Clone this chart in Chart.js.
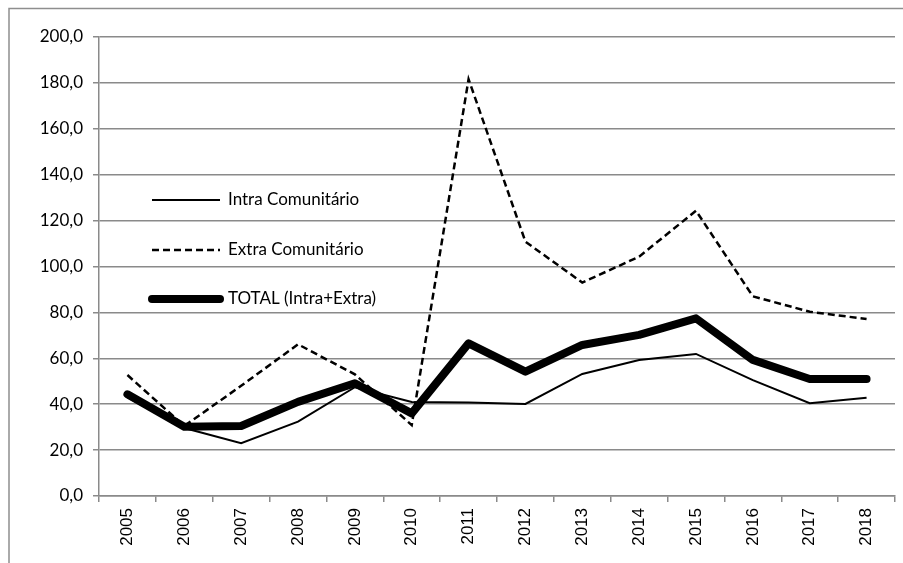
<!DOCTYPE html>
<html>
<head>
<meta charset="utf-8">
<script src="https://cdn.jsdelivr.net/npm/chart.js@4"></script>
<style>
    html, body { margin: 0; padding: 0; background: #fff; overflow: hidden; }
    #wrap { width: 903px; height: 563px; position: relative; }
</style>
</head>
<body>
<div id="wrap"><canvas id="myChart" width="903" height="563"></canvas></div>
<script>
var years = ["2005", "2006", "2007", "2008", "2009", "2010", "2011", "2012", "2013", "2014", "2015", "2016", "2017", "2018"];
var intraValues = [43.0, 29.6, 23.0, 32.4, 47.4, 41.0, 40.7, 40.1, 53.2, 59.3, 61.9, 50.5, 40.4, 42.8];
var extraValues = [52.7, 30.5, 48.0, 66.1, 53.0, 30.9, 181.6, 110.8, 93.0, 104.3, 124.3, 87.0, 80.3, 77.1];
var totalValues = [44.3, 30.2, 30.5, 41.0, 49.1, 36.0, 66.5, 54.2, 65.8, 70.2, 77.4, 59.3, 51.0, 51.0];
var yTicks = [0, 20, 40, 60, 80, 100, 120, 140, 160, 180, 200];

var gridColor = "#8a8a8a";
var textFont = "Lato, 'Open Sans', sans-serif";

// outer frame, only left and top edges are inside the picture
var framePlugin = {
    id: "frame",
    beforeDraw: function(chart) {
        var c = chart.ctx;
        c.save();
        c.strokeStyle = "#8e8e8e";
        c.lineWidth = 1.5;
        c.beginPath();
        c.moveTo(9, chart.height);
        c.lineTo(9, 8.5);
        c.lineTo(chart.width, 8.5);
        c.stroke();
        c.restore();
    }
};

// legend drawn inside the plot, one row per dataset
var insideLegend = {
    id: "insideLegend",
    afterDraw: function(chart) {
        var c = chart.ctx;
        var area = chart.chartArea;
        var x0 = area.left + 53, x1 = area.left + 121, tx = area.left + 129;
        var rows = [163, 213, 262];
        c.save();
        chart.data.datasets.forEach(function(ds, i) {
            var y = area.top + rows[i];
            c.strokeStyle = ds.borderColor;
            c.lineWidth = ds.borderWidth;
            c.lineCap = ds.borderCapStyle || "butt";
            c.setLineDash(ds.borderDash || []);
            c.beginPath();
            c.moveTo(x0, y);
            c.lineTo(x1, y);
            c.stroke();
            c.setLineDash([]);
            c.fillStyle = "#000";
            c.font = "17px " + textFont;
            c.textAlign = "left";
            c.textBaseline = "middle";
            c.fillText(ds.label, tx, y);
        });
        c.restore();
    }
};

window.onload = function() {
    var ctx = document.getElementById("myChart").getContext("2d");
    var myChart = new Chart(ctx, {
        type: "line",
        data: {
            labels: years,
            datasets: [
                {
                    label: "Intra Comunitário",
                    data: intraValues,
                    borderColor: "#000",
                    borderWidth: 2,
                    pointRadius: 0,
                    tension: 0,
                    order: 2,
                },
                {
                    label: "Extra Comunitário",
                    data: extraValues,
                    borderColor: "#000",
                    borderWidth: 2.5,
                    borderDash: [7, 4],
                    pointRadius: 0,
                    tension: 0,
                    order: 1,
                },
                {
                    label: "TOTAL (Intra+Extra)",
                    data: totalValues,
                    borderColor: "#000",
                    borderWidth: 8,
                    borderCapStyle: "round",
                    borderJoinStyle: "round",
                    pointRadius: 0,
                    tension: 0,
                    order: 0,
                },
            ],
        },
        options: {
            responsive: false,
            animation: false,
            layout: { padding: { left: 0, top: 37, right: 8, bottom: 0 } },
            plugins: {
                legend: { display: false },
                tooltip: { enabled: false },
            },
            scales: {
                x: {
                    offset: true,
                    grid: {
                        offset: true,
                        drawOnChartArea: false,
                        drawTicks: true,
                        tickLength: 6,
                        tickColor: gridColor,
                        lineWidth: 1.5,
                    },
                    border: { color: gridColor, width: 1.5 },
                    ticks: {
                        autoSkip: false,
                        minRotation: 90,
                        maxRotation: 90,
                        padding: 6,
                        color: "#000",
                        font: { family: "'Liberation Sans', Arial, sans-serif", size: 17 },
                    },
                    afterFit: function(scale) { scale.height = 67; },
                },
                y: {
                    min: 0,
                    max: 200,
                    afterBuildTicks: function(scale) {
                        scale.ticks = yTicks.map(function(v) { return { value: v }; });
                    },
                    grid: {
                        color: gridColor,
                        lineWidth: 1.5,
                        tickLength: 6,
                    },
                    border: { color: gridColor, width: 1.5 },
                    ticks: {
                        padding: 10,
                        color: "#000",
                        font: { family: textFont, size: 17 },
                        callback: function(v) { return Number(v).toFixed(1).replace(".", ","); },
                    },
                    afterFit: function(scale) { scale.width = 99; },
                },
            },
        },
        plugins: [framePlugin, insideLegend],
    });
};
</script>
</body>
</html>
